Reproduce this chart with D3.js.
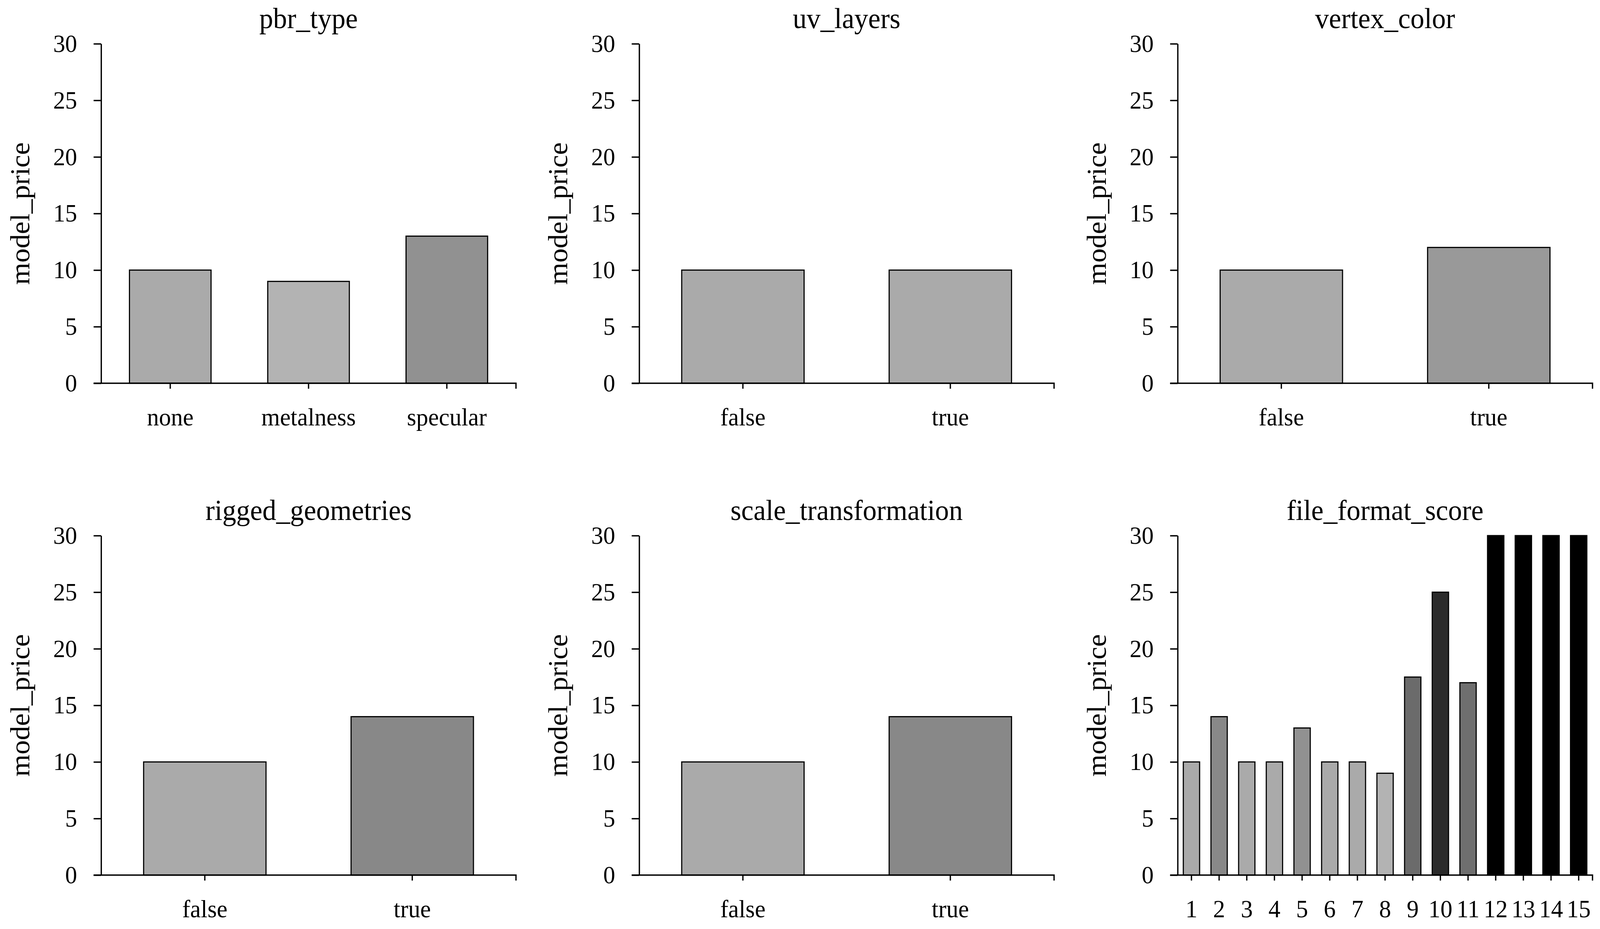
<!DOCTYPE html>
<html>
<head>
<meta charset="utf-8">
<script src="https://cdn.jsdelivr.net/npm/d3@7"></script>
<style>
  html, body { margin: 0; padding: 0; background: #fff; overflow: hidden; }
  svg { display: block; width: 100vw; height: 100vh; }
  text { font-family: "Liberation Serif", "Times New Roman", serif; fill: #000; }
</style>
</head>
<body>
<div id="figure"></div>
<script>
// valeurs
var yTicks = [0, 5, 10, 15, 20, 25, 30];
var pbrTypes = ["none", "metalness", "specular"];
var pbrPrice = [10, 9, 13];
var boolCats = ["false", "true"];
var uvPrice = [10, 10];
var vertexPrice = [10, 12];
var riggedPrice = [10, 14];
var scalePrice = [10, 14];
var fileScores = ["1", "2", "3", "4", "5", "6", "7", "8", "9", "10", "11", "12", "13", "14", "15"];
var filePrice = [10, 14, 10, 10, 13, 10, 10, 9, 17.5, 25, 17, 30, 30, 30, 30];

var panneaux = [
    { titre: "pbr_type", cats: pbrTypes, vals: pbrPrice },
    { titre: "uv_layers", cats: boolCats, vals: uvPrice },
    { titre: "vertex_color", cats: boolCats, vals: vertexPrice },
    { titre: "rigged_geometries", cats: boolCats, vals: riggedPrice },
    { titre: "scale_transformation", cats: boolCats, vals: scalePrice },
    { titre: "file_format_score", cats: fileScores, vals: filePrice }
];

var W = 4273, H = 2378;
var origX = [270, 1707, 3145];
var origY = [112, 1371];
var largeur = 1108, hauteur = 869;

// on remplit toute la fenêtre, quelle que soit sa taille réelle
var svg = d3.select("#figure").append("svg")
    .attr("viewBox", "0 0 " + W + " " + H)
    .attr("preserveAspectRatio", "none");

// gris selon la valeur (clair = bas, noir = haut)
var gris = d3.scaleLinear().domain([9, 30]).range(["#b3b3b3", "#000000"]).clamp(true);

var y = d3.scaleLinear().domain([0, 30]).range([hauteur, 0]);

panneaux.forEach(function(p, i) {
    var col = i % 3, ligne = Math.floor(i / 3);
    var g = svg.append("g").attr("transform", "translate(" + origX[col] + "," + origY[ligne] + ")");

    var x = d3.scaleBand().domain(p.cats).range([0, largeur]).paddingInner(0.41).paddingOuter(0.205);

    g.selectAll("rect.barre")
        .data(p.vals)
        .enter().append("rect")
        .attr("class", "barre")
        .attr("x", function(d, j) { return x(p.cats[j]); })
        .attr("y", function(d) { return y(d); })
        .attr("width", x.bandwidth())
        .attr("height", function(d) { return hauteur - y(d); })
        .attr("fill", function(d) { return gris(d); })
        .attr("stroke", "#000")
        .attr("stroke-width", 3);

    // axe y
    var axeY = g.append("g")
        .call(d3.axisLeft(y).tickValues(yTicks).tickSize(20).tickSizeOuter(0).tickPadding(44));
    axeY.select(".domain").attr("stroke-width", 3.5);
    axeY.selectAll(".tick line").attr("stroke-width", 3.5);
    axeY.selectAll(".tick text").attr("font-size", 64).attr("dy", "0.32em")
        .style("font-family", "Liberation Serif");

    // axe x
    var axeX = g.append("g")
        .attr("transform", "translate(0," + hauteur + ")")
        .call(d3.axisBottom(x).tickSize(14).tickSizeOuter(0).tickPadding(52));
    axeX.select(".domain").attr("d", "M-20,0H" + largeur + "V14").attr("stroke-width", 3.5);
    axeX.selectAll(".tick line").attr("stroke-width", 3.5);
    axeX.selectAll(".tick text").attr("font-size", 64).attr("dy", "0.66em")
        .style("font-family", "Liberation Serif");

    g.append("text")
        .attr("x", largeur / 2)
        .attr("y", -40)
        .attr("text-anchor", "middle")
        .attr("font-size", 74)
        .text(p.titre);

    g.append("text")
        .attr("transform", "translate(-192," + (hauteur / 2) + ") rotate(-90)")
        .attr("text-anchor", "middle")
        .attr("font-size", 73)
        .text("model_price");
});
</script>
</body>
</html>
